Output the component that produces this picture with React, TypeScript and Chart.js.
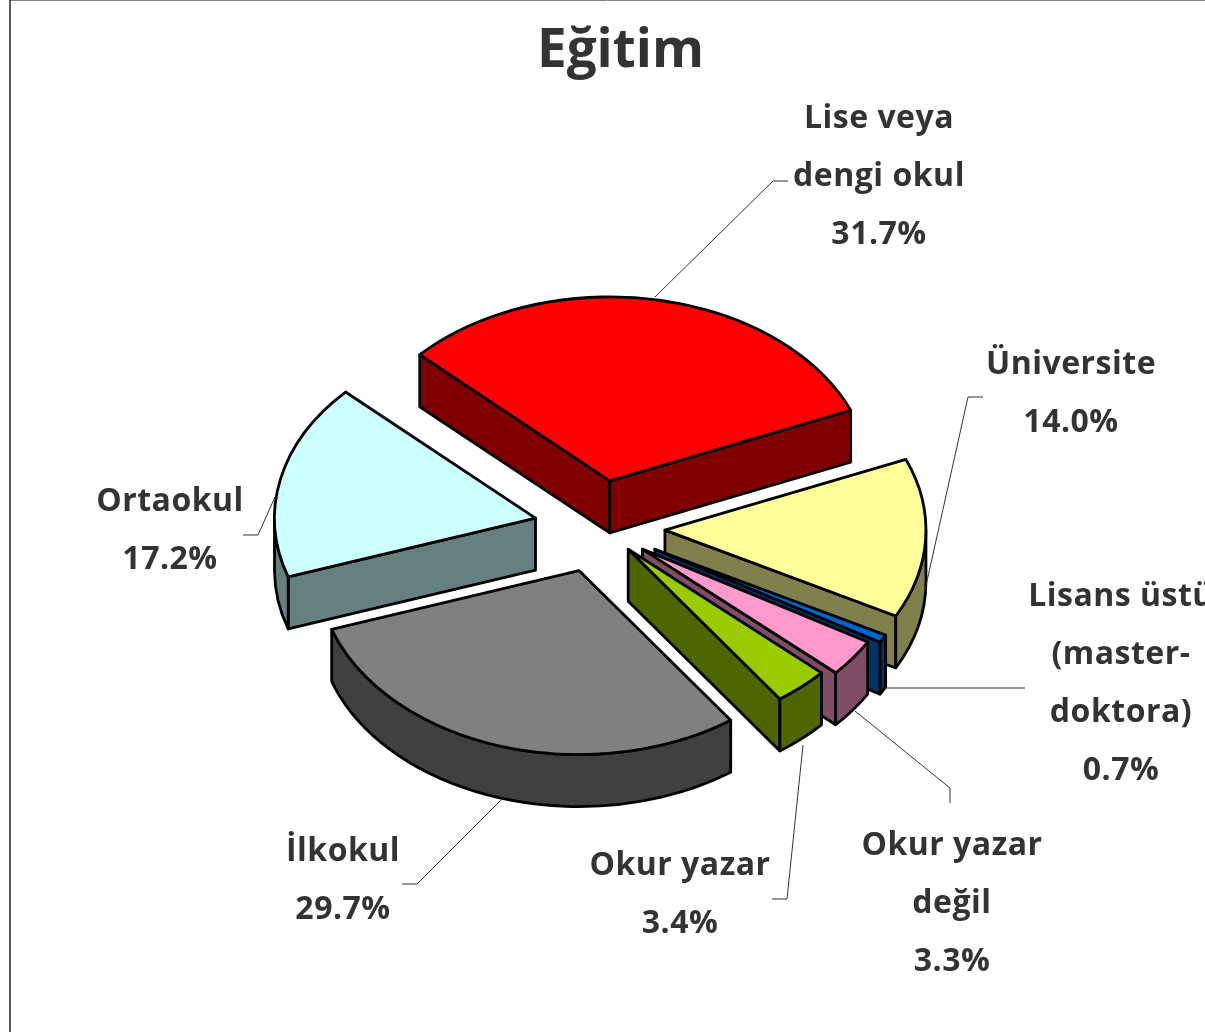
import React, { useEffect, useRef } from "react";
import { Chart, registerables } from "chart.js";

Chart.register(...registerables);

const categories = ["Lise veya dengi okul", "Üniversite", "Lisans üstü (master-doktora)", "Okur yazar değil", "Okur yazar", "İlkokul", "Ortaokul"];
const shares = [31.7, 14.0, 0.7, 3.3, 3.4, 29.7, 17.2];
const topColors = ["#FF0000", "#FFFF99", "#0066CC", "#FF99CC", "#99CC00", "#808080", "#CCFFFF"];
const sideColors = ["#800000", "#80804D", "#003366", "#804D66", "#4D6600", "#404040", "#668080"];
const labelLines = [
  ["Lise veya", "dengi okul", "31.7%"],
  ["Üniversite", "14.0%"],
  ["Lisans üstü", "(master-", "doktora)", "0.7%"],
  ["Okur yazar", "değil", "3.3%"],
  ["Okur yazar", "3.4%"],
  ["İlkokul", "29.7%"],
  ["Ortaokul", "17.2%"],
];

// layout only
const CENTER = { x: 598, y: 526 };
const TILT = 0.705;
const DEPTH = 52;
const EXPLODE = 65;
const DRAW_ORDER = [0, 6, 1, 2, 3, 4, 5];
const SLICE_NUDGE = [[0, 0], [2, 2], [0, 1], [-8, -4], [-13, -11], [1, 1], [1, 2]];
const LABEL_POS = [
  { x: 879, y: 128 },
  { x: 1071, y: 374 },
  { x: 1121, y: 606 },
  { x: 952, y: 855 },
  { x: 680, y: 875 },
  { x: 343, y: 861 },
  { x: 170, y: 511 },
];
const LEADERS = [
  [[655, 297], [773, 181], [788, 181]],
  [[925, 590], [968, 397], [983, 397]],
  [[885, 688], [1025, 688]],
  [[855, 711], [950, 788], [950, 803]],
  [[803, 745], [787, 899], [772, 899]],
  [[503, 798], [417, 884], [402, 884]],
  [[275, 497], [258, 535], [243, 535]],
];
const FONT = '"Open Sans", sans-serif';

const pie3d = {
  id: "pie3d",
  beforeDatasetsDraw(chart: any) {
    const ctx = chart.ctx;
    const arcs = chart.getDatasetMeta(0).data;
    ctx.save();
    ctx.lineJoin = "round";
    for (const i of DRAW_ORDER) {
      const arc = arcs[i];
      const a = arc.startAngle;
      const b = arc.endAngle;
      const mid = (a + b) / 2;
      const R = arc.outerRadius;
      const ax = CENTER.x + Math.cos(mid) * EXPLODE + SLICE_NUDGE[i][0];
      const ay = CENTER.y + Math.sin(mid) * EXPLODE * TILT + SLICE_NUDGE[i][1];
      const ry = R * TILT;
      const pt = (t: number) => [ax + R * Math.cos(t), ay + ry * Math.sin(t)];

      ctx.fillStyle = sideColors[i];
      ctx.strokeStyle = "#000";
      ctx.lineWidth = 2.8;

      // radial walls that face the viewer
      const walls = [
        { t: a, normal: a - Math.PI / 2 },
        { t: b, normal: b + Math.PI / 2 },
      ];
      for (const { t, normal } of walls) {
        if (Math.sin(normal) <= 0) continue;
        const [px, py] = pt(t);
        ctx.beginPath();
        ctx.moveTo(ax, ay);
        ctx.lineTo(px, py);
        ctx.lineTo(px, py + DEPTH);
        ctx.lineTo(ax, ay + DEPTH);
        ctx.closePath();
        ctx.fill();
        ctx.stroke();
      }

      // outer rim, only where it faces the viewer
      for (let k = -2; k <= 2; k++) {
        const lo = Math.max(a, 2 * Math.PI * k);
        const hi = Math.min(b, Math.PI + 2 * Math.PI * k);
        if (hi <= lo) continue;
        ctx.beginPath();
        ctx.ellipse(ax, ay, R, ry, 0, lo, hi, false);
        ctx.ellipse(ax, ay + DEPTH, R, ry, 0, hi, lo, true);
        ctx.closePath();
        ctx.fill();
        ctx.stroke();
      }

      // top face: the library's own arc, moved out and squashed into the tilted plane
      ctx.save();
      ctx.translate(ax, ay);
      ctx.scale(1, TILT);
      ctx.translate(-arc.x, -arc.y);
      arc.draw(ctx);
      ctx.restore();

      ctx.beginPath();
      ctx.moveTo(ax, ay);
      ctx.ellipse(ax, ay, R, ry, 0, a, b, false);
      ctx.closePath();
      ctx.stroke();
    }
    ctx.restore();
    return false;
  },
  afterDraw(chart: any) {
    const ctx = chart.ctx;
    ctx.save();
    // frame
    ctx.strokeStyle = "#808080";
    ctx.lineWidth = 1;
    ctx.beginPath();
    ctx.moveTo(10, 0.5);
    ctx.lineTo(1205, 0.5);
    ctx.stroke();
    ctx.strokeStyle = "#222";
    ctx.lineWidth = 1.5;
    ctx.beginPath();
    ctx.moveTo(10, 0);
    ctx.lineTo(10, 1032);
    ctx.stroke();
    // leaders
    ctx.strokeStyle = "#333";
    ctx.lineWidth = 1;
    for (const line of LEADERS) {
      ctx.beginPath();
      line.forEach(([x, y], j) => (j ? ctx.lineTo(x, y) : ctx.moveTo(x, y)));
      ctx.stroke();
    }
    // labels
    ctx.fillStyle = "#333333";
    ctx.font = `bold 32px ${FONT}`;
    ctx.letterSpacing = "0.5px";
    ctx.textAlign = "center";
    ctx.textBaseline = "alphabetic";
    labelLines.forEach((lines, i) => {
      lines.forEach((t, j) => ctx.fillText(t, LABEL_POS[i].x, LABEL_POS[i].y + j * 58));
    });
    ctx.restore();
  },
};

export default function App() {
  const ref = useRef<HTMLCanvasElement>(null);
  useEffect(() => {
    const chart = new Chart(ref.current as HTMLCanvasElement, {
      type: "pie",
      data: {
        labels: categories,
        datasets: [
          {
            data: shares,
            backgroundColor: topColors,
            borderWidth: 0,
            offset: 0,
            hoverOffset: 0,
          },
        ],
      },
      options: {
        responsive: false,
        animation: false,
        rotation: -46.7,
        radius: 261,
        layout: { padding: { left: 36, right: 0, top: 0, bottom: 0 } },
        plugins: {
          legend: { display: false },
          tooltip: { enabled: false },
          title: {
            display: true,
            text: "Eğitim",
            fullSize: false,
            color: "#333333",
            font: { family: FONT, size: 53, weight: "bold" },
            padding: { top: 20, bottom: 0 },
          },
        },
      },
      plugins: [pie3d],
    } as any);
    return () => chart.destroy();
  }, []);
  return (
    <div style={{ position: "fixed", left: 0, top: 0, width: 1205, height: 1032, overflow: "hidden", background: "#fff" }}>
      <canvas ref={ref} width={1205} height={1032} style={{ display: "block" }} />
    </div>
  );
}
